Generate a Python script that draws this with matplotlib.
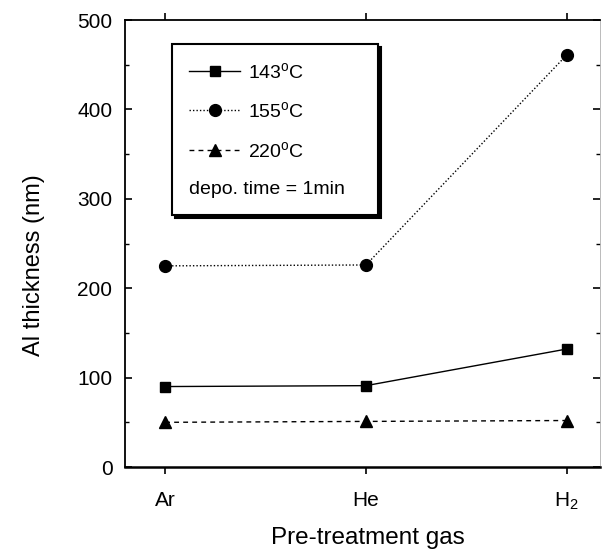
import matplotlib
matplotlib.use("Agg")
import matplotlib.pyplot as plt
from matplotlib.ticker import MultipleLocator

plt.rcParams['font.family'] = ['Liberation Sans', 'DejaVu Sans']
plt.rcParams['mathtext.fontset'] = 'custom'
plt.rcParams['mathtext.rm'] = 'Liberation Sans'
plt.rcParams['mathtext.it'] = 'Liberation Sans'

# data
gases = ['Ar', 'He', 'H$_2$']
thick_143 = [90, 91, 132]
thick_155 = [225, 226, 461]
thick_220 = [50, 51, 52]
labels = ['143$^{\\mathrm{o}}$C', '155$^{\\mathrm{o}}$C', '220$^{\\mathrm{o}}$C']
note = 'depo. time = 1min'

fig = plt.figure(figsize=(6.02, 5.53), dpi=100)
ax = fig.add_axes([0.2076, 0.1555, 0.789, 0.8083])

x = list(range(len(gases)))
l1, = ax.plot(x, thick_143, color='black', lw=1.0, ls='-', marker='s', ms=7.5)
l2, = ax.plot(x, thick_155, color='black', lw=1.0, ls=(0, (1, 1.5)), marker='o', ms=8.5)
l3, = ax.plot(x, thick_220, color='black', lw=1.0, ls=(0, (3.5, 3)), marker='^', ms=8.5)

ax.set_xlim(-0.2, 2.165)
ax.set_ylim(0, 500)
ax.set_xticks(x)
ax.set_xticklabels(gases)
ax.yaxis.set_major_locator(MultipleLocator(100))
ax.yaxis.set_minor_locator(MultipleLocator(50))

ax.tick_params(axis='y', which='both', direction='in', right=True, labelsize=15, pad=9)
ax.tick_params(axis='y', which='major', length=5, width=1.2)
ax.tick_params(axis='y', which='minor', length=3, width=1.0)
ax.tick_params(axis='x', direction='out', top=True, length=5, width=1.2, labelsize=15, pad=12)

for side in ['left', 'top']:
    ax.spines[side].set_linewidth(1.3)
ax.spines['bottom'].set_linewidth(1.8)
ax.spines['right'].set_linewidth(0.6)
ax.spines['right'].set_color('#b0b0b0')

ax.set_ylabel('Al thickness (nm)', fontsize=17)
ax.yaxis.set_label_coords(-0.168, 0.452)
ax.set_xlabel('Pre-treatment gas', fontsize=17.5)
ax.xaxis.set_label_coords(0.512, -0.135)

blank, = ax.plot([], [], ls='none')
leg = ax.legend([l1, l2, l3, blank], labels + [note], loc='upper left',
                bbox_to_anchor=(0.099, 0.568, 0.434, 0.378), mode='expand',
                borderaxespad=0, fontsize=14,
                frameon=True, fancybox=False, shadow={'color': 'black', 'alpha': 1},
                edgecolor='black', framealpha=1, handlelength=2.6, handletextpad=0.4,
                labelspacing=1.0, borderpad=0.9)
leg.get_frame().set_linewidth(1.5)

# let the note line start where the handles start
entry = leg._legend_handle_box.get_children()[0].get_children()[3]
entry.get_children()[0].width = 0
entry.sep = 0

fig.savefig('out.png', dpi=100)
